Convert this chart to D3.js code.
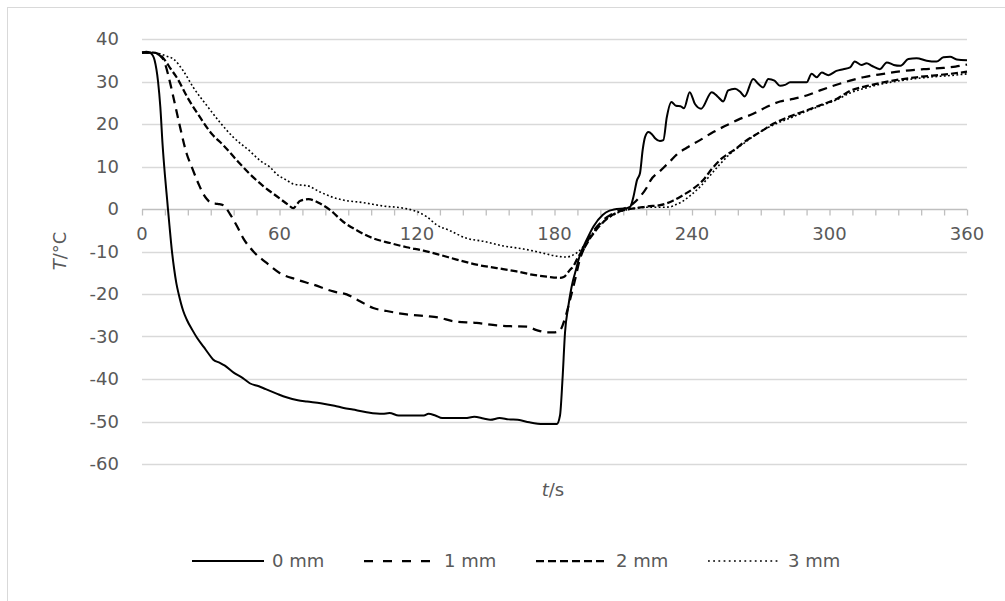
<!DOCTYPE html>
<html>
<head>
<meta charset="utf-8">
<script src="https://cdn.jsdelivr.net/npm/d3@7"></script>
<style>
  body { margin: 0; background: #fff; }
  svg text { font-family: "DejaVu Sans", sans-serif; fill: #595959; }
</style>
</head>
<body>
<svg id="svg" width="1005" height="601"></svg>
<script>
// series: [t (s), T (°C)]
var s0mm = [[0,36.8],[2,37],[4,36.6],[5.5,35],[7,30],[8,24],[9,15],[10,8],[11,2],[12,-4],[13,-9.6],[14,-14],[15,-17.5],[16,-20],[18,-24],[19.5,-26],[22,-28.5],[24,-30.3],[27,-32.5],[29,-34],[31,-35.4],[34,-36.2],[36,-36.8],[40,-38.5],[44,-39.8],[47,-41],[51,-41.7],[54,-42.4],[59,-43.5],[63,-44.3],[68,-45],[72,-45.3],[78,-45.7],[84,-46.3],[88,-46.8],[92,-47.2],[98,-47.8],[105,-48.2],[108,-48],[112,-48.6],[118,-48.6],[123,-48.6],[125,-48.2],[128,-48.6],[131,-49.2],[136,-49.2],[141,-49.2],[145,-48.9],[149,-49.3],[152,-49.6],[156,-49.2],[160,-49.5],[164,-49.6],[169,-50.2],[175,-50.6],[181,-50.6],[182.4,-48.6],[183.5,-40],[184.6,-29],[186,-23],[188,-17],[189,-15],[191,-11],[194,-7.3],[197,-4.1],[201,-1.4],[204,-0.4],[206,-0.1],[211.5,0.2],[213,0.5],[214.5,3],[216,6.8],[217.3,8.4],[218.5,14],[219.5,16.9],[221,18.1],[222.5,17.6],[224,16.6],[226,16],[227.5,16.2],[229,21.6],[231,25.2],[233,24.3],[235,24.2],[236.5,23.7],[239,27.5],[241.3,24.7],[244,23.6],[248.6,27.5],[251.5,26.3],[253.6,25.3],[255.8,27.9],[258.8,28.3],[261,27.6],[263,26.5],[266.7,30.6],[269,29.4],[271,28.6],[273.3,30.6],[276,30.2],[278.4,29],[280.6,29.2],[282.8,29.8],[286,29.8],[290,29.8],[292.2,31.8],[294.4,31],[296.6,32.1],[299.5,31.5],[303,32.5],[306,32.9],[309,33.3],[311,34.7],[314,33.9],[316.2,34.3],[318.4,33.7],[322,32.9],[325,34.5],[328,33.9],[331,33.7],[334.4,35.3],[338,35.5],[342.4,34.9],[346.7,34.7],[349.7,35.7],[352.6,35.8],[355.5,35.2],[360,35]];
var s1mm = [[0,36.8],[3,36.8],[6,36.6],[8,36],[9.5,35],[11.5,31.4],[13.7,26.3],[16.6,19.3],[19.5,13],[21.7,9.9],[24.6,6],[26.5,3.8],[28.2,2.4],[30,1.5],[33,1.2],[35.5,0.9],[38.4,-1.2],[41.3,-3.9],[44.2,-6.9],[48.6,-10],[54.4,-12.7],[60.2,-15.1],[67.5,-16.6],[74.8,-17.8],[83.5,-19.4],[89.3,-20.1],[95.1,-21.7],[100.9,-23.3],[106.8,-24],[115.5,-24.8],[124,-25.2],[130,-25.6],[135.8,-26.4],[146,-26.8],[154.8,-27.4],[162,-27.6],[168,-27.7],[172.2,-28.5],[176.6,-29],[180.2,-29],[182.5,-28.5],[183.8,-27],[185,-25],[186.8,-21.3],[189,-16.6],[191,-12],[193.3,-8.8],[196.9,-5.3],[201.3,-2.6],[205.7,-1],[210.8,0.2],[214.4,1.3],[217.3,2.9],[220.2,5],[222,6.8],[226,8.9],[230.4,11.2],[233.3,12.8],[237.7,14.4],[243.5,16.2],[249.3,18.1],[255.1,19.7],[260.9,21.2],[266.7,22.4],[272.5,24],[278.4,25.3],[284.2,25.9],[290,26.7],[295.9,27.9],[301.7,29],[309,30.2],[314.8,31],[323.5,31.8],[332.3,32.5],[341,32.9],[349.7,33.2],[355,33.5],[360,34]];
var s2mm = [[0,36.8],[5,36.8],[8,36.2],[10,35],[12.5,33],[15.1,31],[20.2,25.9],[25.3,21.6],[30.4,17.7],[35.5,15],[41.3,11.5],[47.1,8.2],[52.9,5.4],[58.8,3],[63.8,1],[66,0.2],[67.5,1],[68.9,1.9],[72.6,2.3],[77.7,1.3],[82,-0.2],[87.8,-3],[93.7,-5],[100.9,-6.9],[108.2,-8],[115.5,-9],[122.8,-9.8],[130,-10.8],[137.3,-11.9],[146,-13.1],[154.8,-13.9],[163.5,-14.7],[170.8,-15.5],[176.6,-15.9],[182.4,-16.2],[184,-16],[186.8,-14.3],[188.2,-13.5],[190.4,-11.2],[192.5,-9.6],[196,-6.5],[200,-3.8],[205,-1.5],[210,-0.3],[213,0],[217,0.3],[220.2,0.6],[226,0.9],[231.9,2],[236.2,3.3],[240.6,4.8],[244.9,6.8],[248.6,9.4],[253,11.9],[258.1,13.8],[263.9,16.2],[269.7,18.1],[275.6,20.1],[282.8,21.8],[290,23.2],[297.3,24.7],[303.1,25.9],[309,27.8],[316,28.9],[323.5,29.8],[331,30.5],[338,31],[345,31.4],[352.6,31.8],[360,32.3]];
var s3mm = [[0,36.8],[5,36.8],[8,36.5],[10.5,36],[13.7,35.3],[18,32.5],[22.4,28.6],[28.2,24.4],[34,20.4],[39.8,16.9],[47.1,13.6],[51.5,11.4],[55.9,9.8],[58.8,8.2],[63.1,6.8],[66,5.9],[70,5.6],[72,5.5],[77.7,4],[83,2.8],[87.8,2.1],[96.6,1.5],[105.3,0.7],[114,0.2],[119.9,-0.6],[124.2,-1.8],[128.5,-3.7],[134.4,-5.1],[141.7,-6.9],[148.9,-7.6],[157.7,-8.7],[166.4,-9.4],[175.1,-10.4],[181,-11.1],[185.3,-11.3],[188.2,-10.8],[190,-10.2],[192.5,-8.9],[196,-6.2],[200,-3.6],[205,-1.6],[210,-0.4],[213,0],[220.2,0.4],[226,0.4],[230.4,0.5],[233.3,1.1],[236.2,1.9],[239.1,3.1],[243.5,5.2],[247.9,7.9],[252.3,10.6],[256.7,13],[262.5,15.4],[268.4,17.7],[275.6,19.8],[282.8,21.4],[290,23],[297.3,24.5],[303.1,25.7],[309,27.3],[316,28.5],[323.5,29.5],[331,30.2],[338,30.7],[345,31.1],[352.6,31.4],[360,31.8]];

var seriesNames = ["0 mm", "1 mm", "2 mm", "3 mm"];
var xTicks = d3.range(0, 361, 60);
var xMinor = d3.range(0, 361, 10);
var yTicks = d3.range(-60, 41, 10);

var series = [
  {name: seriesNames[0], data: s0mm, dash: null, legDash: null, w: 2},
  {name: seriesNames[1], data: s1mm, dash: "9,6", legDash: "9,10", w: 2.25},
  {name: seriesNames[2], data: s2mm, dash: "7,3", legDash: "8,4", w: 2.25},
  {name: seriesNames[3], data: s3mm, dash: "1.8,2.4", legDash: "1.8,3.4", w: 1.6}
];

var svg = d3.select("#svg");

// chart border (only top/left visible)
svg.append("rect")
  .attr("x", 7.5).attr("y", 7.5)
  .attr("width", 1200).attr("height", 800)
  .style("fill", "#fff")
  .style("stroke", "#d9d9d9");

var x = d3.scaleLinear().domain([0, 360]).range([142, 967]);
var y = d3.scaleLinear().domain([-60, 40]).range([464, 39]);

// gridlines
svg.append("g").selectAll("line")
  .data(yTicks.filter(d => d !== 0))
  .enter().append("line")
  .attr("x1", x(0)).attr("x2", x(360))
  .attr("y1", d => Math.round(y(d)) + 0.5).attr("y2", d => Math.round(y(d)) + 0.5)
  .style("stroke", "#d9d9d9").style("stroke-width", 1.3);

// y axis labels
svg.append("g")
  .attr("transform", `translate(${x(0)},0)`)
  .call(d3.axisLeft(y).tickValues(yTicks).tickSize(0).tickPadding(23).tickFormat(d => String(d)))
  .call(g => g.select(".domain").remove())
  .selectAll("text")
  .style("font-size", "18px")
  .style("fill", "#595959");

// x axis at T = 0
var x0 = Math.round(y(0)) + 0.5;
var xAxisG = svg.append("g")
  .attr("transform", `translate(0,${x0})`)
  .call(d3.axisBottom(x).tickValues(xMinor).tickSize(6).tickFormat(""));
xAxisG.select(".domain").attr("d", `M${x(0)},0H${x(360)}`).style("stroke", "#bfbfbf").style("stroke-width", 1.3);
xAxisG.selectAll(".tick line").style("stroke", "#bfbfbf").style("stroke-width", 1.3);

svg.append("g").selectAll("text")
  .data(xTicks)
  .enter().append("text")
  .attr("x", d => x(d))
  .attr("y", x0 + 24)
  .attr("dy", "0.35em")
  .attr("text-anchor", "middle")
  .style("font-size", "18px")
  .text(d => d);

// lines
var line = d3.line()
  .x(d => x(d[0]))
  .y(d => y(d[1]))
  .curve(d3.curveMonotoneX);

svg.append("g").selectAll("path")
  .data(series)
  .enter().append("path")
  .attr("d", d => line(d.data))
  .style("fill", "none")
  .style("stroke", "#000")
  .style("stroke-width", d => d.w)
  .style("stroke-dasharray", d => d.dash)
  .style("stroke-linejoin", "round");

// axis titles
var yt = svg.append("text")
  .attr("transform", "translate(66,251) rotate(-90)")
  .attr("text-anchor", "middle")
  .style("font-size", "18px");
yt.append("tspan").style("font-style", "italic").text("T");
yt.append("tspan").text("/°C");

var xt = svg.append("text")
  .attr("x", 553).attr("y", 496)
  .attr("text-anchor", "middle")
  .style("font-size", "18px");
xt.append("tspan").style("font-style", "italic").text("t");
xt.append("tspan").text("/s");

// legend
var leg = svg.append("g").attr("transform", "translate(192,561)");
var item = leg.selectAll(".item")
  .data(series)
  .enter().append("g")
  .attr("class", "item")
  .attr("transform", (d, i) => `translate(${i * 172},0)`);
item.append("line")
  .attr("x1", 0).attr("x2", 72)
  .attr("y1", 0).attr("y2", 0)
  .style("stroke", "#000")
  .style("stroke-width", d => d.w)
  .style("stroke-dasharray", d => d.legDash);
item.append("text")
  .attr("x", 80).attr("dy", "0.35em")
  .style("font-size", "18px")
  .text(d => d.name);
</script>
</body>
</html>
